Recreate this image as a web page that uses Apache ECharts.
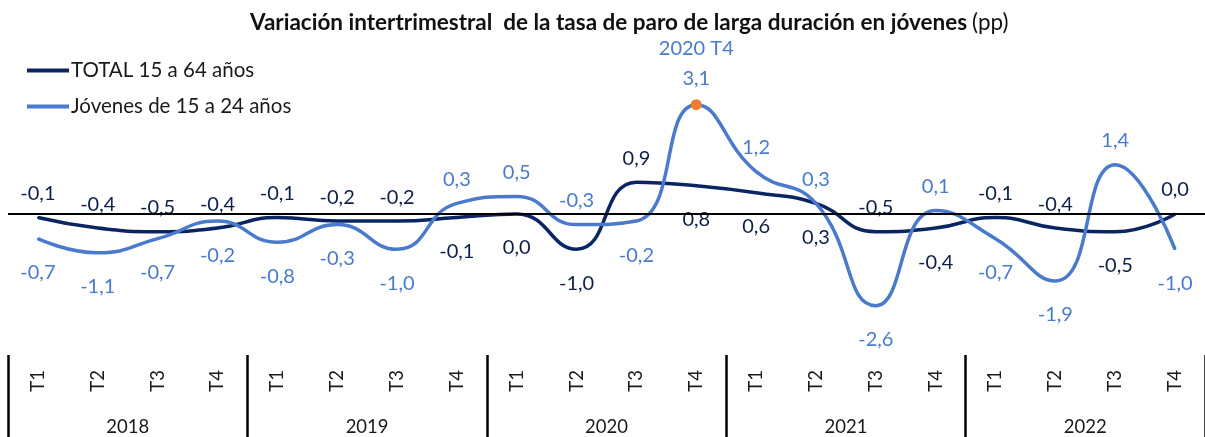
<!DOCTYPE html>
<html>
<head>
<meta charset="utf-8">
<script src="https://cdn.jsdelivr.net/npm/echarts@6/dist/echarts.min.js"></script>
<style>
  html, body { margin: 0; padding: 0; background: #ffffff; }
  #chart { width: 1205px; height: 437px; }
</style>
</head>
<body>
<div id="chart"></div>
<script>
// Quarterly change in the youth long-term unemployment rate (percentage points)
const quarters = ['T1','T2','T3','T4','T1','T2','T3','T4','T1','T2','T3','T4','T1','T2','T3','T4','T1','T2','T3','T4'];
const years = ['2018', '2019', '2020', '2021', '2022'];
const total = [-0.1, -0.4, -0.5, -0.4, -0.1, -0.2, -0.2, -0.1, 0.0, -1.0, 0.9, 0.8, 0.6, 0.3, -0.5, -0.4, -0.1, -0.4, -0.5, 0.0];
const jovenes = [-0.7, -1.1, -0.7, -0.2, -0.8, -0.3, -1.0, 0.3, 0.5, -0.3, -0.2, 3.1, 1.2, 0.3, -2.6, 0.1, -0.7, -1.9, 1.4, -1.0];

// Where the TOTAL value label sits; the youth label goes on the opposite side
const totalLabelSide = ['top','top','top','top','top','top','top','bottom','bottom','bottom',
                        'top','bottom','bottom','bottom','top','bottom','top','top','bottom','top'];
const highlightIndex = 11;

const DARK = '#0b2563';
const LIGHT = '#4a7acb';
const FONT = 'Lato, "Open Sans", sans-serif';

const fmt = v => v.toFixed(1).replace('.', ',');
const opposite = s => (s === 'top' ? 'bottom' : 'top');
const labelFor = (side, color) => ({
  show: true,
  position: side,
  distance: side === 'top' ? 13 : 23,
  color: color,
  fontSize: 20,
  fontFamily: FONT,
  formatter: p => fmt(p.value)
});

const totalData = total.map((v, i) => ({
  value: v,
  label: labelFor(totalLabelSide[i], '#0d1f4a')
}));

const jovenesData = jovenes.map((v, i) => {
  const item = { value: v, label: labelFor(opposite(totalLabelSide[i]), LIGHT) };
  if (i === highlightIndex) {
    // highlighted peak: orange marker and the quarter name above its value
    const tag = years[Math.floor(i / 4)] + ' ' + quarters[i];
    item.symbolSize = 11;
    item.itemStyle = { color: '#ed7d31' };
    item.label.distance = 6;
    item.label.lineHeight = 30;
    item.label.formatter = () => tag + '\n' + fmt(v);
  }
  return item;
});

const chart = echarts.init(document.getElementById('chart'), null, { renderer: 'canvas' });

chart.setOption({
  animation: false,
  backgroundColor: '#ffffff',
  title: {
    left: 245,
    top: 6,
    text: '{b|Variación intertrimestral  de la tasa de paro de larga duración en jóvenes} {r|(pp)}',
    textStyle: {
      rich: {
        b: { fontFamily: FONT, fontWeight: 'bold', fontSize: 22.5, color: '#111111' },
        r: { fontFamily: FONT, fontWeight: 'normal', fontSize: 22.5, color: '#111111' }
      }
    }
  },
  legend: {
    orient: 'vertical',
    left: 22,
    top: 55,
    itemGap: 15,
    itemWidth: 42,
    itemHeight: 4,
    icon: 'rect',
    textStyle: { fontFamily: FONT, fontSize: 20.5, color: '#1a1a1a', padding: [0, 0, 0, -3] },
    data: ['TOTAL 15 a 64 años', 'Jóvenes de 15 a 24 años']
  },
  grid: { left: 8, right: -15, top: 73, bottom: 80, containLabel: false },
  xAxis: [
    {
      type: 'category',
      data: quarters,
      position: 'bottom',
      axisLine: { show: false, onZero: false },
      axisTick: { show: false },
      axisLabel: {
        interval: 0,
        rotate: 90,
        margin: 15,
        fontFamily: FONT,
        fontSize: 18.5,
        color: '#1a1a1a'
      }
    },
    {
      type: 'category',
      data: years,
      position: 'bottom',
      axisLine: { show: false, onZero: false },
      axisTick: {
        show: true,
        interval: 0,
        length: 82,
        lineStyle: { color: '#000000', width: 2.5 }
      },
      axisLabel: {
        interval: 0,
        margin: 63,
        fontFamily: FONT,
        fontSize: 18.5,
        color: '#1a1a1a'
      }
    }
  ],
  yAxis: {
    type: 'value',
    min: -4,
    max: 4,
    show: false
  },
  series: [
    {
      name: 'TOTAL 15 a 64 años',
      type: 'line',
      xAxisIndex: 0,
      data: totalData,
      smooth: 0.5,
      symbol: 'circle',
      symbolSize: 2,
      showSymbol: true,
      itemStyle: { color: DARK },
      lineStyle: { color: DARK, width: 3.5 },
      z: 3,
      markLine: {
        silent: true,
        symbol: ['none', 'none'],
        label: { show: false },
        lineStyle: { color: '#000000', width: 2, type: 'solid' },
        data: [{ yAxis: 0 }]
      }
    },
    {
      name: 'Jóvenes de 15 a 24 años',
      type: 'line',
      xAxisIndex: 0,
      data: jovenesData,
      smooth: 0.5,
      symbol: 'circle',
      symbolSize: 2,
      showSymbol: true,
      itemStyle: { color: LIGHT },
      lineStyle: { color: LIGHT, width: 3.5 },
      z: 4
    }
  ]
});
</script>
</body>
</html>
